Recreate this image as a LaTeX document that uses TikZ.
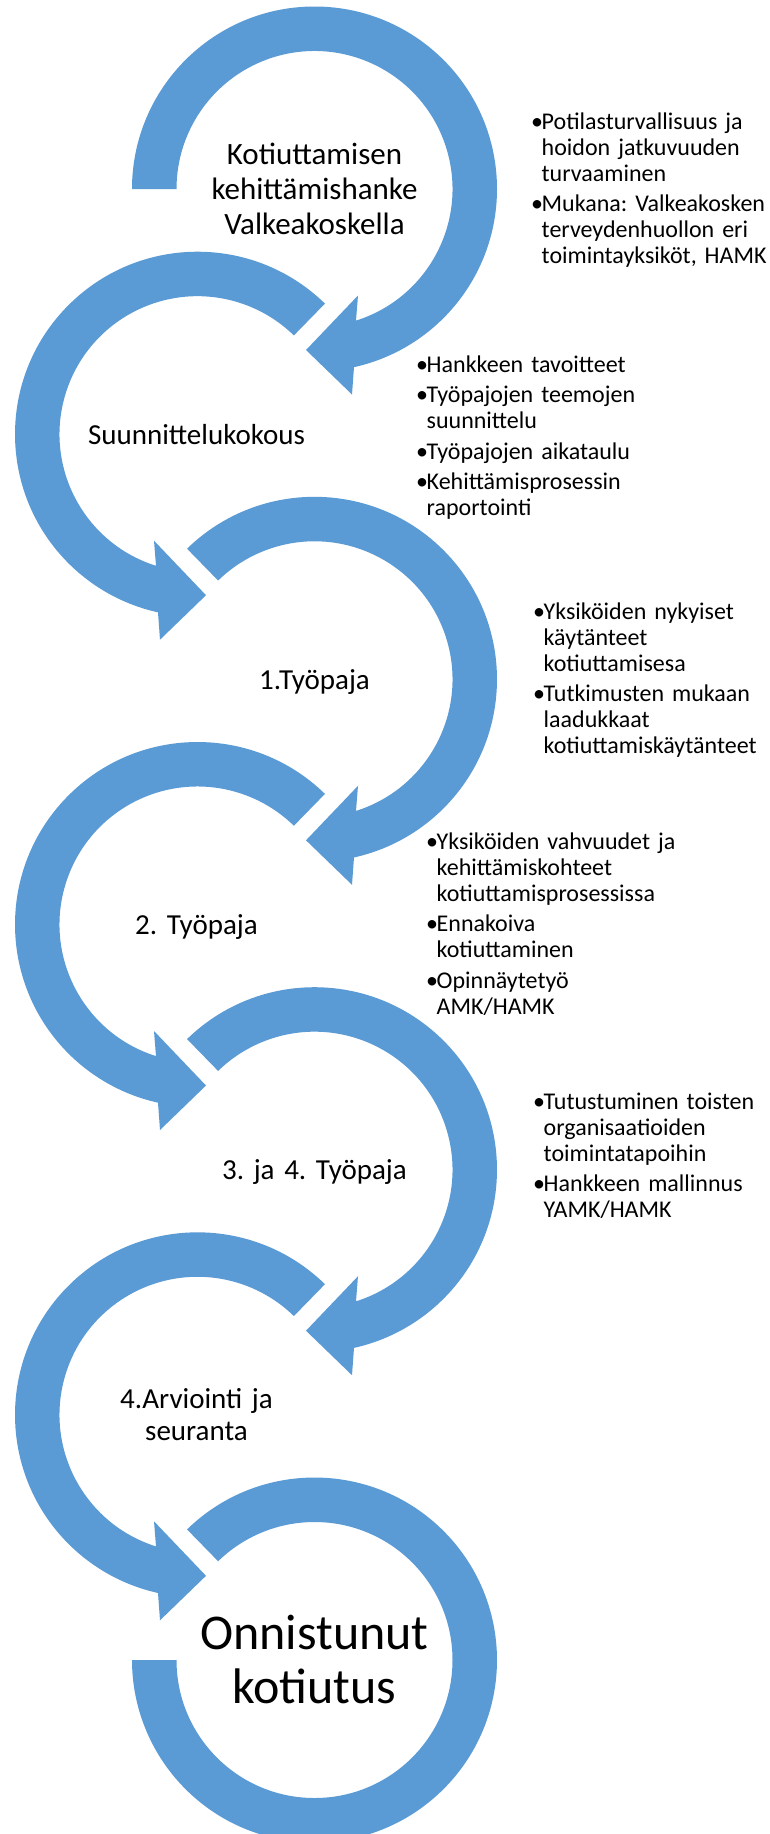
\documentclass[tikz,border=0pt]{standalone}
\usepackage{fontspec}
\setmainfont{Carlito}
\frenchspacing
\definecolor{ringblue}{RGB}{91,155,213}
\newcommand\ringRo{182.5}
\newcommand\ringRi{138}
% ring with arrow head, clockwise, starting at angle #1
\newcommand\ringArrowPath[1]{(#1:\ringRo) arc[start angle=#1, end angle=-77.5, radius=\ringRo] -- (37.5,-205.5) -- (-8.5,-161) -- (43.5,-106.5) -- (-72.5:\ringRi) arc[start angle=-72.5, end angle=#1, radius=\ringRi] -- cycle}
\newcommand\bul{\makebox[10.5pt][l]{•}}
\newcommand\ind{\hspace*{10.5pt}}
\tikzset{
  ringfill/.style={fill=ringblue, draw=none},
  lbl/.style={inner sep=0pt, text width=360pt, align=center, anchor=base},
  bulblock/.style={inner sep=0pt, text width=250pt, align=left, anchor=base west, font=\fontsize{24}{26}\selectfont},
}
\begin{document}
\begin{tikzpicture}[x=1pt, y=1pt]
\useasboundingbox (0,0) rectangle (770,-1834);
\clip (0,0) rectangle (770,-1834);
\fill[white] (0,0) rectangle (770,-1834);

% circle 1
\begin{scope}[shift={(314.5,-189)}]
  \fill[ringfill] \ringArrowPath{180};
\end{scope}
% circle 2 (mirrored)
\begin{scope}[shift={(197.5,-434.2)}, xscale=-1]
  \fill[ringfill] \ringArrowPath{134.3};
\end{scope}
% circle 3
\begin{scope}[shift={(314.5,-679.3)}]
  \fill[ringfill] \ringArrowPath{134.3};
\end{scope}
% circle 4 (mirrored)
\begin{scope}[shift={(197.5,-924.5)}, xscale=-1]
  \fill[ringfill] \ringArrowPath{134.3};
\end{scope}
% circle 5
\begin{scope}[shift={(314.5,-1169.7)}]
  \fill[ringfill] \ringArrowPath{134.3};
\end{scope}
% circle 6 (mirrored)
\begin{scope}[shift={(197.5,-1414.8)}, xscale=-1]
  \fill[ringfill] \ringArrowPath{134.3};
\end{scope}
% circle 7 (final ring, no head)
\begin{scope}[shift={(314.5,-1660)}]
  \fill[ringfill] (134.3:\ringRo) arc[start angle=134.3, end angle=-180, radius=\ringRo] -- (-180:\ringRi) arc[start angle=-180, end angle=134.3, radius=\ringRi] -- cycle;
\end{scope}

% labels in circles
\node[lbl, font=\fontsize{31}{35}\selectfont] (t1) at (314.5,-164.5) {Kotiuttamisen\\kehittämishanke\\Valkeakoskella};
\node[lbl, font=\fontsize{29}{31.7}\selectfont] (t2) at (196.5,-444.2) {Suunnittelukokous};
\node[lbl, font=\fontsize{29}{31.7}\selectfont] (t3) at (314.5,-689.3) {1.Työpaja};
\node[lbl, font=\fontsize{29}{31.7}\selectfont] (t4) at (196.5,-934.5) {2. Työpaja};
\node[lbl, font=\fontsize{29}{31.7}\selectfont] (t5) at (314.5,-1179.7) {3. ja 4. Työpaja};
\node[lbl, font=\fontsize{29}{31.7}\selectfont] (t6) at (196.5,-1408.3) {4.Arviointi ja\\seuranta};
\node[lbl, font=\fontsize{50}{54.3}\selectfont] (t7) at (314.5,-1649) {Onnistunut\\kotiutus};

% bullet texts
\node[bulblock] (b1) at (531,-129.3) {\bul Potilasturvallisuus ja\\\ind hoidon jatkuvuuden\\\ind turvaaminen\\[4.5pt]\bul Mukana: Valkeakosken\\\ind terveydenhuollon eri\\\ind toimintayksiköt, HAMK};
\node[bulblock] (b2) at (416,-372) {\bul Hankkeen tavoitteet\\[4.5pt]\bul Työpajojen teemojen\\\ind suunnittelu\\[4.5pt]\bul Työpajojen aikataulu\\[4.5pt]\bul Kehittämisprosessin\\\ind raportointi};
\node[bulblock] (b3) at (533,-619) {\bul Yksiköiden nykyiset\\\ind käytänteet\\\ind kotiuttamisesa\\[4.5pt]\bul Tutkimusten mukaan\\\ind laadukkaat\\\ind kotiuttamiskäytänteet};
\node[bulblock] (b4) at (426,-849) {\bul Yksiköiden vahvuudet ja\\\ind kehittämiskohteet\\\ind kotiuttamisprosessissa\\[4.5pt]\bul Ennakoiva\\\ind kotiuttaminen\\[4.5pt]\bul Opinnäytetyö\\\ind AMK/HAMK};
\node[bulblock] (b5) at (533,-1109) {\bul Tutustuminen toisten\\\ind organisaatioiden\\\ind toimintatapoihin\\[4.5pt]\bul Hankkeen mallinnus\\\ind YAMK/HAMK};
\end{tikzpicture}
\end{document}
